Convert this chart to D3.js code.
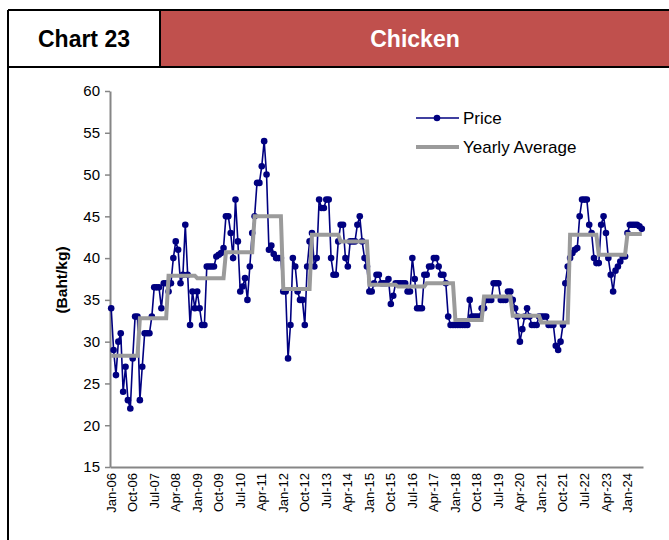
<!DOCTYPE html>
<html lang="en">
<head>
	<meta charset="UTF-8">
	<title>Chart 23 - Chicken</title>
	<style type="text/css">
	body {
		margin: 0;
		background: #fff;
	}
	svg text {
		font-family: "Liberation Sans", Arial, sans-serif;
	}
	.axis .domain {
		stroke: #868686;
		stroke-width: 2px;
	}
	.axis .tick line {
		stroke: #868686;
		stroke-width: 1.5px;
	}
	.axis text {
		fill: #000;
	}
	</style>
</head>
<body>

</body>
<script src="https://cdn.jsdelivr.net/npm/d3@7"></script>
<script>
// monthly price, Jan-06 .. Jul-24 (one row per year)
var price = [
	34, 29, 26, 30, 31, 24, 27, 23, 22, 28, 33, 33,
	23, 27, 31, 31, 31, 33, 36.5, 36.5, 36.5, 34, 37, 37,
	36, 37, 40, 42, 41, 37, 38, 44, 38, 32, 36, 34,
	36, 34, 32, 32, 39, 39, 39, 39, 40.2, 40.4, 40.6, 41.2,
	45, 45, 43, 40, 47, 42, 36, 36.6, 37.6, 35, 39, 43,
	45, 49, 49, 51, 54, 50, 41, 41.5, 40.5, 40, 40, 40,
	36, 36, 28, 32, 40, 39, 36, 35, 35, 32, 39, 42,
	43, 39, 40, 47, 46, 46, 47, 47, 40, 38, 38, 42,
	44, 44, 40, 39, 42, 42, 42, 44, 45, 42, 40, 39,
	36, 36, 37, 38, 38, 37, 37, 37, 37.5, 34.5, 35.5, 37,
	37, 37, 37, 37, 36, 36, 40, 37.5, 34, 34, 34, 38,
	38, 39, 39, 40, 40, 39, 38, 38, 37, 33, 32, 32,
	32, 32, 32, 32, 32, 32, 35, 33, 33, 33, 33, 34,
	34, 35, 35, 35, 37, 37, 37, 35, 35, 35, 36, 36,
	35, 34, 33, 30, 31.5, 33, 34, 33, 32, 32, 32, 33,
	33, 33, 33, 32, 32, 32, 29.5, 29, 30, 32, 37, 39,
	40, 40.6, 41, 41.2, 45, 47, 47, 47, 44, 43, 40, 39.4,
	39.4, 44, 45, 43, 40, 38, 36, 38.5, 39, 39.6, 40.2, 40.2,
	43, 44, 44, 44, 44, 43.8, 43.5
]

var years = ['06', '07', '08', '09', '10', '11', '12', '13', '14', '15',
	'16', '17', '18', '19', '20', '21', '22', '23', '24']
var yearlyAvg = [28.3, 32.8, 37.9, 37.6, 40.7, 45.0, 36.3, 42.8, 42.0, 36.8,
	36.6, 37.0, 32.6, 35.4, 33.1, 32.3, 42.8, 40.4, 42.9]

var monthNames = ['Jan', 'Feb', 'Mar', 'Apr', 'May', 'Jun', 'Jul', 'Aug', 'Sep', 'Oct', 'Nov', 'Dec']

var xTickLabels = ['Jan-06', 'Oct-06', 'Jul-07', 'Apr-08', 'Jan-09', 'Oct-09', 'Jul-10', 'Apr-11',
	'Jan-12', 'Oct-12', 'Jul-13', 'Apr-14', 'Jan-15', 'Oct-15', 'Jul-16', 'Apr-17', 'Jan-18',
	'Oct-18', 'Jul-19', 'Apr-20', 'Jan-21', 'Oct-21', 'Jul-22', 'Apr-23', 'Jan-24']

var yTicks = [15, 20, 25, 30, 35, 40, 45, 50, 55, 60]

// month labels + yearly average laid out per month
var data = price.map(function (v, i) {
	var yi = Math.floor(i / 12)
	return {
		m: monthNames[i % 12] + '-' + years[yi],
		v: v,
		avg: yearlyAvg[yi]
	}
})

var W = 669, H = 540

var svg = d3.select("body").append("svg")
	.attr("width", W)
	.attr("height", H)

// header
var head = svg.append("g")
head.append("rect")
	.attr("x", 160).attr("y", 10)
	.attr("width", W - 160).attr("height", 57)
	.attr("fill", "#C0504D")
head.append("path")
	.attr("d", "M8,10H" + W + "M8,67H" + W + "M160,10V67M8,10V" + H)
	.attr("stroke", "#000")
	.attr("stroke-width", 2)
	.attr("fill", "none")
head.append("text")
	.attr("x", 84).attr("y", 47)
	.attr("text-anchor", "middle")
	.attr("font-size", 23)
	.attr("font-weight", "bold")
	.text("Chart 23")
head.append("text")
	.attr("x", 415).attr("y", 47)
	.attr("text-anchor", "middle")
	.attr("font-size", 23)
	.attr("font-weight", "bold")
	.attr("fill", "#fff")
	.text("Chicken")

var x = d3.scaleBand()
	.domain(data.map(function (d) { return d.m }))
	.range([110, 643])

var y = d3.scaleLinear()
	.domain([15, 60])
	.range([467, 91])

var cx = function (d) { return x(d.m) + x.bandwidth() / 2 }

svg.append("g")
	.attr("class", "axis axis--y")
	.attr("transform", "translate(110,0)")
	.call(d3.axisLeft(y).tickValues(yTicks).tickSize(5).tickSizeOuter(0).tickPadding(5))
	.selectAll("text")
	.attr("font-size", 15)
	.style("font-family", '"Liberation Sans", Arial, sans-serif')

svg.append("g")
	.attr("class", "axis axis--x")
	.attr("transform", "translate(0,467)")
	.call(d3.axisBottom(x).tickValues(xTickLabels).tickSize(0).tickSizeOuter(0))
	.selectAll("text")
	.attr("font-size", 13)
	.style("font-family", '"Liberation Sans", Arial, sans-serif')
	.attr("text-anchor", "end")
	.attr("transform", "rotate(-90)")
	.attr("x", -6)
	.attr("y", 0)
	.attr("dy", "0.35em")

svg.append("text")
	.attr("transform", "translate(67,280) rotate(-90)")
	.attr("text-anchor", "middle")
	.attr("font-size", 15.5)
	.attr("font-weight", "bold")
	.text("(Baht/kg)")

var lineAvg = d3.line()
	.x(cx)
	.y(function (d) { return y(d.avg) })

var linePrice = d3.line()
	.x(cx)
	.y(function (d) { return y(d.v) })

svg.append("path")
	.datum(data)
	.attr("d", linePrice)
	.attr("fill", "none")
	.attr("stroke", "#000080")
	.attr("stroke-width", 1.6)

svg.append("g").selectAll("circle")
	.data(data)
	.enter()
	.append("circle")
	.attr("cx", cx)
	.attr("cy", function (d) { return y(d.v) })
	.attr("r", 3.3)
	.attr("fill", "#000080")

svg.append("path")
	.datum(data)
	.attr("d", lineAvg)
	.attr("fill", "none")
	.attr("stroke", "#9b9b9b")
	.attr("stroke-width", 4)

// legend
var lg = svg.append("g")
lg.append("line")
	.attr("x1", 416).attr("x2", 459).attr("y1", 118).attr("y2", 118)
	.attr("stroke", "#000080").attr("stroke-width", 1.6)
lg.append("circle")
	.attr("cx", 437).attr("cy", 118).attr("r", 3.3)
	.attr("fill", "#000080")
lg.append("text")
	.attr("x", 463).attr("y", 118).attr("dy", "0.35em")
	.attr("font-size", 17)
	.text("Price")
lg.append("line")
	.attr("x1", 416).attr("x2", 459).attr("y1", 147).attr("y2", 147)
	.attr("stroke", "#9b9b9b").attr("stroke-width", 4)
lg.append("text")
	.attr("x", 463).attr("y", 147).attr("dy", "0.35em")
	.attr("font-size", 17)
	.text("Yearly Average")
</script>
</html>
